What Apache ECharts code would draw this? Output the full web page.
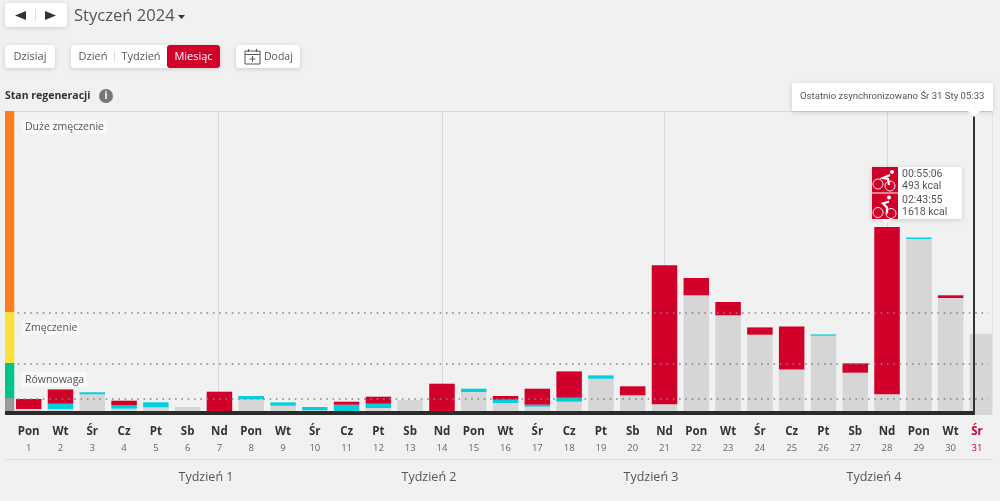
<!DOCTYPE html>
<html>
<head>
<meta charset="utf-8">
<style>
  html, body { margin: 0; padding: 0; background: #f1f1f1; }
  #main { width: 1000px; height: 501px; }
</style>
<script src="https://cdn.jsdelivr.net/npm/echarts@6/dist/echarts.min.js"></script>
</head>
<body>
<div id="main"></div>
<script>
var dayNames = ['Pon','Wt','Śr','Cz','Pt','Sb','Nd','Pon','Wt','Śr','Cz','Pt','Sb','Nd','Pon','Wt','Śr','Cz','Pt','Sb','Nd','Pon','Wt','Śr','Cz','Pt','Sb','Nd','Pon','Wt','Śr'];
var dayNumbers = [1,2,3,4,5,6,7,8,9,10,11,12,13,14,15,16,17,18,19,20,21,22,23,24,25,26,27,28,29,30,31];

var greyLoad = [2,2,16.7,2.3,3.7,4,0,11.7,5.3,0.7,0,3,11,0,19,8,4.3,9.3,32.3,15.7,6.7,115.7,95.7,76.3,41,75.3,38.3,16.7,172,113,77.3];
var cyanLoad = [0,5.3,2,3.3,5,0,0,3.3,3.3,3.3,6.3,4.3,0,0,3.3,3.3,2,4,3.3,0,0,0,0,0,0.7,1.3,0,0,1.5,0,0];
var redLoad = [10,14.3,0,4.7,0,0,19.3,0,0,0,3,7,0,27.3,0,3.7,16,26.3,0,9,139,17.3,13.3,7.3,42.7,0,9.3,167.3,0,2.7,0];

var zoneNames = ['Równowaga','Zmęczenie','Duże zmęczenie'];
var zoneHeights = [13,35,51,201];
var zoneColors = ['#9a9a9a','#00c38c','#fbe139','#fd7e1d'];
var dottedLevels = [12,47.5,98.5];
var weekLabels = ['Tydzień 1','Tydzień 2','Tydzień 3','Tydzień 4'];
var weekLineDays = [6.47,13.5,20.5,27.5];
var syncDay = 30.23;

var FONT = '"Open Sans", sans-serif';
var THIN_FONT = 'Roboto, sans-serif';
var textGrey = '#555';
var red = '#d0002a';

function nz(arr) {
  return arr.map(function (v) { return v === 0 ? null : v; });
}

function box(x, y, w, h, fill, r, shadow) {
  return {
    type: 'rect', z: 100,
    shape: { x: x, y: y, width: w, height: h, r: r === undefined ? 3 : r },
    style: {
      fill: fill,
      shadowBlur: shadow ? 5 : 0,
      shadowColor: 'rgba(0,0,0,0.16)',
      shadowOffsetY: shadow ? 1 : 0
    }
  };
}

function label(x, y, text, size, color, align, weight, font) {
  return {
    type: 'text', z: 101, x: x, y: y,
    style: {
      text: text, fontSize: size, fontFamily: font || FONT, fill: color,
      align: align || 'center', verticalAlign: 'middle', fontWeight: weight || 'normal'
    }
  };
}

function seg(x1, y1, x2, y2, color, w) {
  return {
    type: 'line', z: 101,
    shape: { x1: x1, y1: y1, x2: x2, y2: y2 },
    style: { stroke: color, lineWidth: w || 1 }
  };
}

function poly(points, fill) {
  return { type: 'polygon', z: 101, shape: { points: points }, style: { fill: fill } };
}

// small cyclist icon on a red square, pts = head, hip, hand, knee, foot
function bikeIcon(x, y, h, w1, w2, pts) {
  var white = { stroke: '#fff', fill: 'none', lineWidth: 0.9 };
  function off(p) { return [x + p[0], y + p[1]]; }
  return [
    box(x, y, 26, h, red, 0),
    { type: 'circle', z: 101, shape: { cx: x + w1[0], cy: y + w1[1], r: 5 }, style: white },
    { type: 'circle', z: 101, shape: { cx: x + w2[0], cy: y + w2[1], r: 5 }, style: white },
    { type: 'circle', z: 101, shape: { cx: x + pts[0][0], cy: y + pts[0][1], r: 2 }, style: { fill: '#fff' } },
    {
      type: 'polyline', z: 101,
      shape: { points: [off(pts[2]), off(pts[1]), off(pts[3]), off(pts[4])] },
      style: { stroke: '#fff', fill: 'none', lineWidth: 2.2 }
    }
  ];
}

var graphics = [
  // right edge cover, the last day runs past the plot
  box(992.5, 100, 8, 320, '#f1f1f1', 0),
  box(5, 411, 9, 4, '#2b2b2b', 0),

  box(5, 3, 62, 24, '#fff', 3, true),
  poly([[26, 11], [26, 20], [15, 15.5]], '#333'),
  poly([[45, 11], [45, 20], [56, 15.5]], '#333'),
  seg(35.5, 9, 35.5, 21, '#ddd'),
  label(74, 16, 'Styczeń 2024', 16.6, textGrey, 'left'),
  poly([[178, 15], [185, 15], [181.5, 19]], '#333'),

  box(5, 45, 50, 23, '#fff', 3, true),
  label(30, 57, 'Dzisiaj', 11, textGrey),
  box(71, 45, 149, 23, '#fff', 3, true),
  box(167, 45, 53, 23, red, 3),
  label(93, 57, 'Dzień', 11, textGrey),
  seg(114.5, 51, 114.5, 62, '#ddd'),
  label(141, 57, 'Tydzień', 11, textGrey),
  label(193.5, 57, 'Miesiąc', 11, '#fff'),
  box(236, 45, 64, 23, '#fff', 3, true),
  { type: 'rect', z: 101, shape: { x: 245, y: 51, width: 15, height: 13 }, style: { fill: 'none', stroke: '#555', lineWidth: 1 } },
  seg(245, 54.5, 260, 54.5, '#555'),
  seg(248.5, 49, 248.5, 52, '#555'),
  seg(256.5, 49, 256.5, 52, '#555'),
  seg(249.5, 59, 255.5, 59, '#555'),
  seg(252.5, 56, 252.5, 62, '#555'),
  label(264, 57, 'Dodaj', 10.5, textGrey, 'left'),

  label(5, 96, 'Stan regeneracji', 10.5, '#333', 'left', 'bold'),
  { type: 'circle', z: 101, shape: { cx: 106, cy: 96, r: 7 }, style: { fill: '#777' } },
  label(106, 96, 'i', 10, '#fff', 'center', 'bold'),

  box(22, 120, 85, 14, '#f9f9f9', 0),
  label(25, 127, zoneNames[2], 10.5, textGrey, 'left'),
  box(22, 321, 58, 14, '#f9f9f9', 0),
  label(25, 328, zoneNames[1], 10.5, textGrey, 'left'),
  box(22, 372, 65, 15, '#f9f9f9', 0),
  label(25, 380, zoneNames[0], 10.5, textGrey, 'left'),

  // last sync note
  box(792, 83, 201, 28, '#fff', 0, true),
  poly([[968, 111], [980, 111], [974, 117]], '#fff'),
  label(800, 97, 'Ostatnio zsynchronizowano Śr 31 Sty 05:33', 9.6, textGrey, 'left', 'normal', THIN_FONT),

  // workouts on day 28
  box(872, 167, 90, 52, '#fff', 0, true),
  poly([[881, 219], [891, 219], [886, 224]], '#fff'),
  label(902, 174, '00:55:06', 10.5, textGrey, 'left', 'normal', THIN_FONT),
  label(902, 186, '493 kcal', 10.5, textGrey, 'left', 'normal', THIN_FONT),
  label(902, 200, '02:43:55', 10.5, textGrey, 'left', 'normal', THIN_FONT),
  label(902, 212, '1618 kcal', 10.5, textGrey, 'left', 'normal', THIN_FONT),

  // footer
  seg(5, 459.5, 993, 459.5, '#dcdcdc'),
  label(206, 477, weekLabels[0], 12.5, textGrey),
  label(429, 477, weekLabels[1], 12.5, textGrey),
  label(651, 477, weekLabels[2], 12.5, textGrey),
  label(874, 477, weekLabels[3], 12.5, textGrey)
].concat(
  bikeIcon(872, 167, 25.5, [6, 17], [18, 19], [[20, 5], [11, 11], [18, 8], [16, 12], [17, 18]]),
  bikeIcon(872, 193.5, 25.5, [6, 19], [19, 20], [[17, 4], [11, 10], [17, 8], [15, 14], [15, 20]])
);

var frameLines = [
  [{ coord: [0, 300] }, { coord: [30.8, 300] }],
  [{ coord: [30.8, 0] }, { coord: [30.8, 300] }]
];
weekLineDays.forEach(function (d) {
  frameLines.push([{ coord: [d, 0] }, { coord: [d, 300] }]);
});

var dottedLines = dottedLevels.map(function (v) {
  return [{ coord: [0.15, v] }, { coord: [30.68, v] }];
});

function barSeries(name, values, color) {
  return {
    name: name, type: 'bar', stack: 'load', barWidth: 25.5,
    silent: true, animation: false,
    data: nz(values), itemStyle: { color: color }
  };
}

var series = [
  barSeries('Regeneracja', greyLoad, '#d6d6d6'),
  barSeries('Lekki', cyanLoad, '#00cfde'),
  barSeries('Ciężki', redLoad, red),
  {
    type: 'line', xAxisIndex: 1, yAxisIndex: 0, data: [], silent: true, animation: false,
    markLine: {
      z: 1, silent: true, animation: false, symbol: 'none', label: { show: false },
      lineStyle: { color: '#d8d8d8', width: 1, type: 'solid' },
      data: frameLines
    },
    markArea: {
      silent: true, animation: false, itemStyle: { color: '#d6d6d6' },
      data: [[{ coord: [syncDay, -4] }, { coord: [31, 0] }]]
    }
  },
  {
    type: 'line', xAxisIndex: 1, yAxisIndex: 0, data: [], silent: true, animation: false, z: 3,
    markLine: {
      z: 6, silent: true, animation: false, symbol: 'none', label: { show: false },
      lineStyle: { color: '#858585', width: 1.5, type: [1.6, 4.7] },
      data: dottedLines
    }
  },
  {
    type: 'line', xAxisIndex: 1, yAxisIndex: 0, data: [], silent: true, animation: false, z: 4,
    markLine: {
      z: 7, silent: true, animation: false, symbol: 'none', label: { show: false },
      lineStyle: { color: '#2b2b2b', width: 4, type: 'solid' },
      data: [
        [{ coord: [0, -2] }, { coord: [syncDay, -2] }],
        [{ coord: [syncDay, -4], lineStyle: { width: 2, color: '#333' } }, { coord: [syncDay, 300], lineStyle: { width: 2, color: '#333' } }]
      ]
    }
  }
];

// colour strip on the left, one stacked bar
zoneHeights.forEach(function (h, i) {
  series.push({
    type: 'bar', stack: 'zones', xAxisIndex: 2, yAxisIndex: 1, barWidth: '100%',
    silent: true, animation: false, data: [h], itemStyle: { color: zoneColors[i] }
  });
});

var myChart = echarts.init(document.getElementById('main'), null, { renderer: 'canvas' });
myChart.setOption({
  backgroundColor: '#f1f1f1',
  animation: false,
  textStyle: { fontFamily: FONT },
  grid: [
    { left: 12.8, right: 1.7, top: 111, height: 304 },
    { left: 5, width: 9.3, top: 111, height: 300 }
  ],
  xAxis: [
    {
      type: 'category', gridIndex: 0, data: dayNames.map(function (n, i) { return { value: n + '|' + i }; }),
      axisLine: { show: false }, axisTick: { show: false }, splitLine: { show: false },
      axisLabel: {
        interval: 0, margin: 9, lineHeight: 16,
        formatter: function (v) {
          var i = +v.split('|')[1];
          if (i === 30) {
            return '{lastDay|' + dayNames[i] + '}\n{lastNum|' + dayNumbers[i] + '}';
          }
          return '{day|' + dayNames[i] + '}\n{num|' + dayNumbers[i] + '}';
        },
        rich: {
          day: { fontSize: 11.5, fontWeight: 'bold', color: '#333', fontFamily: FONT, lineHeight: 16 },
          num: { fontSize: 9.5, color: '#666', fontFamily: FONT, lineHeight: 16 },
          lastDay: { fontSize: 11.5, fontWeight: 'bold', color: red, fontFamily: FONT, lineHeight: 16, padding: [0, 11, 0, 0] },
          lastNum: { fontSize: 9.5, color: red, fontFamily: FONT, lineHeight: 16, padding: [0, 11, 0, 0] }
        }
      }
    },
    { type: 'value', gridIndex: 0, min: 0, max: 31, show: false, splitLine: { show: false } },
    { type: 'category', gridIndex: 1, data: ['zones'], show: false }
  ],
  yAxis: [
    { type: 'value', gridIndex: 0, min: -4, max: 300, show: false, splitLine: { show: false } },
    { type: 'value', gridIndex: 1, min: 0, max: 300, show: false, splitLine: { show: false } }
  ],
  series: series,
  graphic: { elements: graphics }
});
</script>
</body>
</html>
